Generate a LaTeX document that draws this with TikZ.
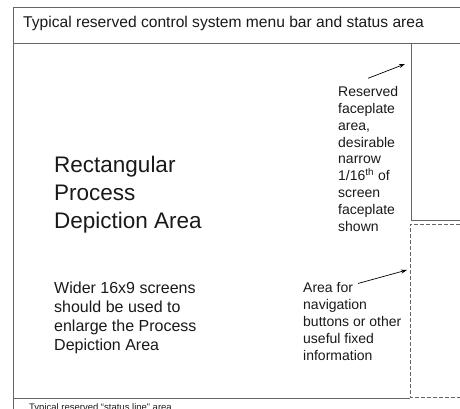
\documentclass[tikz,border=0pt]{standalone}
\usepackage{fontspec}
\setmainfont{Liberation Sans}
\usetikzlibrary{arrows.meta}

\tikzset{
    frame/.style={draw=black!60, line width=0.9pt},
    reserved/.style={frame, dash pattern=on 4pt off 2pt},
    note/.style={align=left, inner sep=0pt, anchor=base west, text=black!90,
        font=\fontsize{14}{16.8}\selectfont},
    pointer/.style={-{Stealth[length=6pt,width=4pt]}, line width=0.7pt},
}

\begin{document}
\begin{tikzpicture}[x=1pt,y=-1pt]
    \useasboundingbox (0,0) rectangle (460,409);

    % screen outline, menu bar, faceplate and navigation areas
    \draw[frame] (460,7) -- (13,7) -- (13,409);
    \draw[frame] (13,43) -- (460,43);
    \draw[frame] (411,43) -- (411,220) -- (460,220);
    \draw[reserved] (460,224) -- (410,224) -- (410,397) -- (460,397);
    \draw[frame] (13,398) -- (410,398);

    \coordinate (faceplate tip) at (405,64);
    \coordinate (nav tip) at (407,270);

    % multi-line notes sit on the baseline of their last line
    \node (menu bar) [note, font=\fontsize{15.6}{18}\selectfont] at (23,28)
        {Typical reserved control system menu bar and status area};

    \node (process area) [note, font=\fontsize{22.5}{28}\selectfont] at (54,228) {
        Rectangular\\
        Process\\
        Depiction Area
    };

    \node (wide screens) [note, font=\fontsize{16}{19}\selectfont] at (54,350) {
        Wider 16x9 screens\\
        should be used to\\
        enlarge the Process\\
        Depiction Area
    };

    \node (faceplate note) [note] at (338,231) {
        Reserved\\
        faceplate\\
        area,\\
        desirable\\
        narrow\\
        1/16\textsuperscript{th} of\\
        screen\\
        faceplate\\
        shown
    };

    \node (nav note) [note] at (303,360) {
        Area for\\
        navigation\\
        buttons or other\\
        useful fixed\\
        information
    };

    \node (status line) [note, font=\fontsize{9.5}{11}\selectfont] at (29,410)
        {Typical reserved ``status line'' area};

    \draw[pointer] ([yshift=8pt]faceplate note.north) -- (faceplate tip);
    \draw[pointer] ([xshift=55pt,yshift=-1pt]nav note.north west) -- (nav tip);
\end{tikzpicture}
\end{document}
